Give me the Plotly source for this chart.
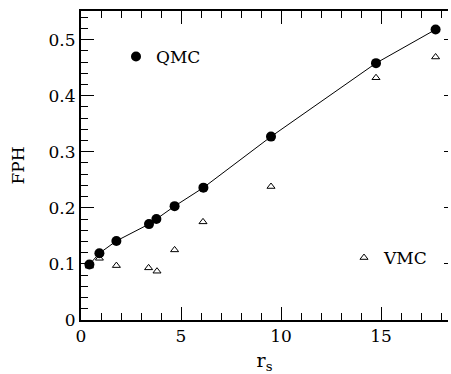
import plotly.graph_objects as go

# Data
qmc_rs = [0.42, 0.92, 1.77, 3.40, 3.77, 4.68, 6.12, 9.50, 14.75, 17.73]
qmc_fph = [0.099, 0.119, 0.141, 0.171, 0.180, 0.203, 0.236, 0.327, 0.458, 0.518]

vmc_rs = [0.42, 0.92, 1.77, 3.38, 3.80, 4.68, 6.10, 9.50, 14.75, 17.73]
vmc_fph = [0.096, 0.110, 0.097, 0.093, 0.087, 0.125, 0.175, 0.238, 0.432, 0.469]

x_ticks = [0, 5, 10, 15]
y_ticks = [0, 0.1, 0.2, 0.3, 0.4, 0.5]
y_tick_labels = ["0", "0.1", "0.2", "0.3", "0.4", "0.5"]

FONT = "DejaVu Serif"

fig = go.Figure()

# fitted line (drawn through QMC values)
fig.add_trace(go.Scatter(x=qmc_rs, y=qmc_fph, mode="lines",
                         line=dict(color="black", width=1), showlegend=False,
                         hoverinfo="skip"))

fig.add_trace(go.Scatter(x=vmc_rs, y=vmc_fph, mode="markers", name="VMC",
                         marker=dict(symbol="triangle-up-open", size=7,
                                     color="black", line=dict(width=1)),
                         legend="legend2"))

fig.add_trace(go.Scatter(x=qmc_rs, y=qmc_fph, mode="markers", name="QMC",
                         marker=dict(symbol="circle", size=10, color="black"),
                         legend="legend"))

axis_common = dict(showgrid=False, zeroline=False, showline=True,
                   linecolor="black", linewidth=2, ticks="inside",
                   tickcolor="black", tickwidth=1, ticklen=13,
                   automargin=False,
                   tickfont=dict(family=FONT, size=17, color="black"))

fig.update_layout(
    width=451, height=374,
    margin=dict(l=81, r=3, t=11, b=54),
    paper_bgcolor="white", plot_bgcolor="white",
    xaxis=dict(range=[0, 18.35], tickvals=x_ticks, mirror="ticks",
               minor=dict(dtick=1, ticks="inside", ticklen=7,
                          tickcolor="black", tickwidth=1),
               title=dict(text="r<sub>s</sub>",
                          font=dict(family=FONT, size=19, color="black"),
                          standoff=18),
               **axis_common),
    yaxis=dict(range=[0, 0.551], tickvals=y_ticks, ticktext=y_tick_labels,
               minor=dict(dtick=0.02, ticks="inside", ticklen=7,
                          tickcolor="black", tickwidth=1),
               title=dict(text="FPH",
                          font=dict(family=FONT, size=17, color="black"),
                          standoff=20),
               **axis_common),
    yaxis2=dict(overlaying="y", side="right", matches="y", range=[0, 0.551],
                tickvals=y_ticks, showticklabels=False, showgrid=False,
                zeroline=False, showline=False, ticks="inside", ticklen=4,
                tickcolor="black", tickwidth=1),
    legend=dict(x=(116 - 81) / 367, y=(320 - 57) / 309, xanchor="left",
                yanchor="middle", bgcolor="rgba(0,0,0,0)",
                font=dict(family=FONT, size=17, color="black")),
    legend2=dict(x=(344 - 81) / 367, y=(320 - 258) / 309, xanchor="left",
                 yanchor="middle", bgcolor="rgba(0,0,0,0)",
                 font=dict(family=FONT, size=17, color="black")),
)

# invisible trace to anchor the right-hand tick axis
fig.add_trace(go.Scatter(x=[None], y=[None], yaxis="y2", showlegend=False))

fig.write_html("out.html")
